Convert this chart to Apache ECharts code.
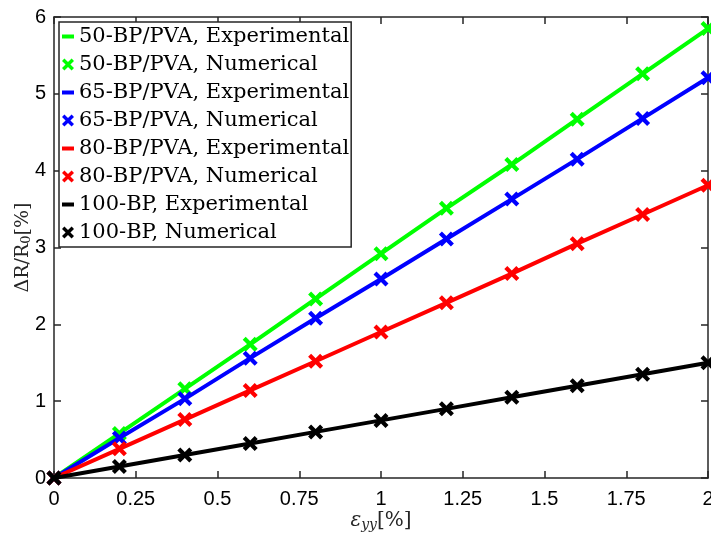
<!DOCTYPE html>
<html>
<head>
<meta charset="utf-8">
<script src="https://cdn.jsdelivr.net/npm/echarts@6/dist/echarts.min.js"></script>
<style>
  html, body { margin: 0; padding: 0; background: #fff; }
  #chart { width: 711px; height: 535px; }
</style>
</head>
<body>
<div id="chart"></div>
<script>
// Strain values (x), in percent
const strain = [0, 0.2, 0.4, 0.6, 0.8, 1.0, 1.2, 1.4, 1.6, 1.8, 2.0];

// Relative resistance change ΔR/R0 (%) per sample
const bp50 = [0, 0.58, 1.16, 1.74, 2.33, 2.92, 3.51, 4.08, 4.67, 5.26, 5.85];
const bp65 = [0, 0.52, 1.03, 1.56, 2.08, 2.59, 3.11, 3.63, 4.15, 4.68, 5.21];
const bp80 = [0, 0.38, 0.76, 1.14, 1.52, 1.90, 2.28, 2.66, 3.05, 3.43, 3.81];
const bp100 = [0, 0.15, 0.30, 0.45, 0.60, 0.75, 0.90, 1.05, 1.20, 1.35, 1.50];

const xTicks = [0, 0.25, 0.5, 0.75, 1, 1.25, 1.5, 1.75, 2];
const yTicks = [0, 1, 2, 3, 4, 5, 6];

const samples = [
  { name: '50-BP/PVA', values: bp50, color: '#00ff00' },
  { name: '65-BP/PVA', values: bp65, color: '#0000ff' },
  { name: '80-BP/PVA', values: bp80, color: '#ff0000' },
  { name: '100-BP', values: bp100, color: '#000000' }
];

// Bold "x" marker and short dash legend icon
const cross = 'path://M0,2 L2,0 L5,3 L8,0 L10,2 L7,5 L10,8 L8,10 L5,7 L2,10 L0,8 L3,5 Z';
const dash = 'path://M0,0 L12,0 L12,4 L0,4 Z';
const axisColor = '#262626';
const serif = '"DejaVu Serif", "Liberation Serif", serif';
const sans = '"Liberation Sans", Arial, sans-serif';

const pairs = (vals) => strain.map((x, i) => [x, vals[i]]);

const series = [];
const legendData = [];
samples.forEach((s, k) => {
  const expName = s.name + ', Experimental';
  const numName = s.name + ', Numerical';
  series.push({
    name: expName,
    type: 'line',
    data: pairs(s.values),
    symbol: 'none',
    lineStyle: { color: s.color, width: 4 },
    itemStyle: { color: s.color },
    z: 2 + k * 2,
    clip: true,
    animation: false
  });
  series.push({
    name: numName,
    type: 'scatter',
    data: pairs(s.values),
    symbol: cross,
    symbolSize: 15,
    itemStyle: { color: s.color, opacity: 1 },
    z: 3 + k * 2,
    clip: true,
    animation: false
  });
  legendData.push({ name: expName, icon: dash, itemStyle: { color: s.color } });
  legendData.push({ name: numName, icon: cross, itemStyle: { color: s.color } });
});

const tickStyle = { show: true, inside: true, length: 7, lineStyle: { color: axisColor, width: 1.5 } };
const lineStyle = { show: true, onZero: false, lineStyle: { color: axisColor, width: 1.5 } };

const chart = echarts.init(document.getElementById('chart'), null, { renderer: 'canvas' });

chart.setOption({
  backgroundColor: '#ffffff',
  animation: false,
  grid: { left: 54, right: 3, top: 17, bottom: 57, containLabel: false, outerBoundsMode: 'none' },
  legend: {
    orient: 'vertical',
    left: 59,
    top: 22,
    padding: [4, 2, 4, 3],
    itemGap: 7,
    itemWidth: 12,
    itemHeight: 14,
    symbolKeepAspect: true,
    backgroundColor: '#ffffff',
    borderColor: axisColor,
    borderWidth: 1.5,
    borderRadius: 0,
    textStyle: { fontFamily: serif, fontSize: 21, color: '#000', lineHeight: 20 },
    data: legendData
  },
  xAxis: [
    {
      type: 'value', min: 0, max: 2, interval: 0.25,
      position: 'bottom',
      name: '{e|ε}{s|yy}{n|[%]}',
      nameLocation: 'middle', nameGap: 32,
      nameMoveOverlap: false,
      nameTextStyle: {
        rich: {
          e: { fontFamily: serif, fontStyle: 'italic', fontSize: 20, color: '#262626' },
          s: { fontFamily: serif, fontStyle: 'italic', fontSize: 14, color: '#262626', verticalAlign: 'bottom', padding: [8, 0, 0, 0] },
          n: { fontFamily: serif, fontSize: 20, color: '#262626' }
        }
      },
      axisLine: lineStyle,
      axisTick: tickStyle,
      axisLabel: {
        fontFamily: sans, fontSize: 20, color: '#000', margin: 11,
        formatter: v => String(v)
      },
      splitLine: { show: false }
    },
    {
      type: 'value', min: 0, max: 2, interval: 0.25,
      position: 'top',
      axisLine: lineStyle,
      axisTick: tickStyle,
      axisLabel: { show: false },
      splitLine: { show: false }
    }
  ],
  yAxis: [
    {
      type: 'value', min: 0, max: 6, interval: 1,
      position: 'left',
      name: '{a|ΔR/R}{b|0}{a|[%]}',
      nameLocation: 'middle', nameGap: 21,
      nameMoveOverlap: false,
      nameTextStyle: {
        rich: {
          a: { fontFamily: serif, fontSize: 19, color: '#262626' },
          b: { fontFamily: serif, fontSize: 13, color: '#262626', verticalAlign: 'bottom', padding: [7, 0, 0, 0] }
        }
      },
      axisLine: lineStyle,
      axisTick: tickStyle,
      axisLabel: { fontFamily: sans, fontSize: 20, color: '#000', margin: 8 },
      splitLine: { show: false }
    },
    {
      type: 'value', min: 0, max: 6, interval: 1,
      position: 'right',
      axisLine: lineStyle,
      axisTick: tickStyle,
      axisLabel: { show: false },
      splitLine: { show: false }
    }
  ],
  series: series
});
</script>
</body>
</html>
